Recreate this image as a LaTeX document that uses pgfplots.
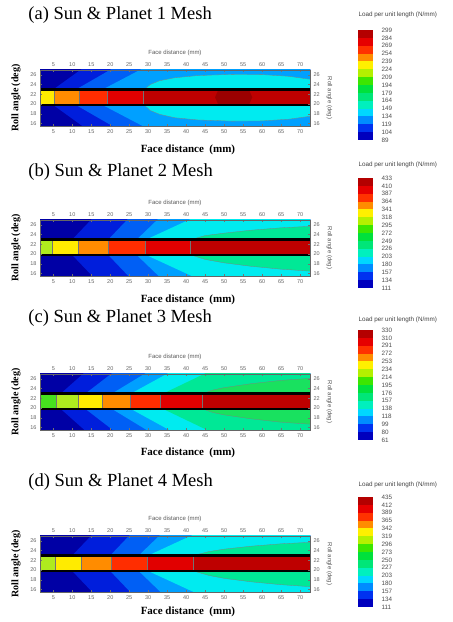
\documentclass[border=0pt]{standalone}
\usepackage{pgfplots}
\pgfplotsset{compat=1.18}
\usepackage{fontspec}
\setmainfont{Liberation Serif}
\newfontfamily\sans{Liberation Sans}

\definecolor{cnavy}{RGB}{0,0,165}
\definecolor{cblue}{RGB}{0,30,220}
\definecolor{cmblue}{RGB}{0,95,245}
\definecolor{clblue}{RGB}{0,160,255}
\definecolor{ccyan}{RGB}{0,235,240}
\definecolor{cgreen}{RGB}{0,232,150}
\definecolor{cgreenb}{RGB}{25,225,95}
\definecolor{bgreen}{RGB}{70,225,30}
\definecolor{byg}{RGB}{175,235,30}
\definecolor{byel}{RGB}{255,235,0}
\definecolor{borange}{RGB}{255,140,0}
\definecolor{bro}{RGB}{255,45,0}
\definecolor{bred}{RGB}{225,0,0}
\definecolor{bdred}{RGB}{190,0,0}
\definecolor{bddred}{RGB}{155,0,0}
\definecolor{cb0}{RGB}{0,0,190}
\definecolor{cb1}{RGB}{0,50,240}
\definecolor{cb2}{RGB}{0,140,255}
\definecolor{cb3}{RGB}{0,215,255}
\definecolor{cb4}{RGB}{0,240,190}
\definecolor{cb5}{RGB}{0,230,120}
\definecolor{cb6}{RGB}{0,225,60}
\definecolor{cb7}{RGB}{60,230,0}
\definecolor{cb8}{RGB}{180,240,0}
\definecolor{cb9}{RGB}{255,240,0}
\definecolor{cb10}{RGB}{255,140,0}
\definecolor{cb11}{RGB}{255,50,0}
\definecolor{cb12}{RGB}{230,0,0}
\definecolor{cb13}{RGB}{180,0,0}

% contour level: colour, x at band edge, x at far edge
\newcommand\lvl[3]{%
 \addplot[fill=#1,draw=none] coordinates {(#2,23) (#3,27.5) (74,27.5) (74,23)};
 \addplot[fill=#1,draw=none] coordinates {(#2,19.8) (#3,15.3) (74,15.3) (74,19.8)};}
\newcommand\seg[3]{\addplot[fill=#1,draw=black!55,line width=0.3pt] coordinates {(#2,19.8) (#2,23) (#3,23) (#3,19.8)};}
\newcommand\base{\addplot[fill=cnavy,draw=none] coordinates {(0,15) (0,28) (74,28) (74,15)};}
\newcommand\bandlines{%
 \addplot[black,line width=2.3pt] coordinates {(0,23) (74,23)};
 \addplot[black,line width=2.3pt] coordinates {(0,19.8) (74,19.8)};}
\newcommand\cb[3]{\addplot[fill=#1,draw=none] coordinates {(0,#2) (1,#2) (1,#3) (0,#3)};}
\newcommand\cbar{%
 \cb{cb0}{0}{1}\cb{cb1}{1}{2}\cb{cb2}{2}{3}\cb{cb3}{3}{4}\cb{cb4}{4}{5}
 \cb{cb5}{5}{6}\cb{cb6}{6}{7}\cb{cb7}{7}{8}\cb{cb8}{8}{9}\cb{cb9}{9}{10}
 \cb{cb10}{10}{11}\cb{cb11}{11}{12}\cb{cb12}{12}{13}\cb{cb13}{13}{14}}

\pgfplotsset{
 panel/.style={scale only axis, width=270pt, height=56pt,
   xmin=1.5, xmax=72.6, ymin=15.5, ymax=27,
   xtick={5,10,...,70}, ytick={16,18,...,26},
   axis on top, tick style={black!55, thin}, major tick length=2pt,
   axis line style={black!60, line width=0.4pt},
   /pgf/number format/assume math mode=true,
   ticklabel style={font=\sans\fontsize{5.5}{6}\selectfont, text=black!60},
   anchor=north west},
 panelmain/.style={panel,
   xlabel={Face distance\ \ (mm)}, ylabel={Roll angle (deg)},
   xlabel style={font=\bfseries\fontsize{11}{12}\selectfont, at={(axis description cs:0.548,#1)}, anchor=center},
   ylabel style={font=\bfseries\fontsize{10}{12}\selectfont, at={(axis description cs:-0.089,0.5)}, anchor=center}},
 paneltop/.style={panel, xticklabel pos=upper, yticklabel pos=right,
   xlabel={Face distance (mm)}, ylabel={Roll angle (deg)},
   label style={font=\sans\fontsize{6}{7}\selectfont, text=black!65},
   ylabel style={rotate=180}},
 ptitle/.style={title style={font=\fontsize{18.5}{20}\selectfont, anchor=west, yshift=-6pt, at={(axis description cs:-0.056,#1)}}},
 cbarax/.style={scale only axis, width=15pt, height=110pt,
   xmin=0, xmax=1, ymin=0, ymax=14, xtick=\empty, ytick={0,...,14},
   yticklabel pos=right, major tick length=0pt, axis line style={draw=none},
   yticklabel style={font=\sans\fontsize{6.3}{7}\selectfont, text=black!70, anchor=west, xshift=5pt},
   anchor=north west, title={Load per unit length (N/mm)},
   title style={font=\sans\fontsize{6.3}{7}\selectfont, text=black!75, anchor=west, yshift=-6pt, at={(axis description cs:-0.2,#1)}}},
}

\begin{document}
\begin{tikzpicture}
\useasboundingbox (0pt,0pt) rectangle (453pt,622pt);

% ---------------- (a)
\begin{axis}[panelmain=-0.43, at={(40pt,552pt)}, title={(a) Sun \& Planet 1 Mesh}, ptitle=1.98]
\base
\lvl{cblue}{5}{13}
\lvl{cmblue}{11}{21}
\lvl{clblue}{18}{29}
\addplot[fill=ccyan,draw=black!50,line width=0.3pt] coordinates {(29,23) (30.5,24.0) (33,24.8) (37,25.4) (43,25.85) (52,26.1) (60,26.05) (67,25.7) (72.6,25.1) (74,25.0) (74,23)};
\addplot[fill=ccyan,draw=black!50,line width=0.3pt] coordinates {(29,19.8) (30.5,18.7) (33,17.9) (37,17.2) (43,16.75) (52,16.5) (60,16.55) (67,16.9) (72.6,17.5) (74,17.6) (74,19.8)};
\seg{byel}{0}{5.2}
\seg{borange}{5.2}{11.8}
\seg{bro}{11.8}{19.2}
\seg{bred}{19.2}{28.6}
\seg{bdred}{28.6}{74}
\addplot[fill=bddred,draw=none] coordinates {(48.5,19.8) (47.6,21.4) (48.5,23) (56.5,23) (57.4,21.4) (56.5,19.8)};
\bandlines
\end{axis}
\begin{axis}[paneltop, at={(40pt,552pt)}]
\end{axis}
\begin{axis}[cbarax=1.136, at={(358pt,592pt)},
  yticklabels={89,104,119,134,149,164,179,194,209,224,239,254,269,284,299}]
\cbar
\end{axis}

% ---------------- (b)
\begin{axis}[panelmain=-0.43, at={(40pt,402pt)}, title={(b) Sun \& Planet 2 Mesh}, ptitle=1.857]
\base
\lvl{cblue}{10}{15.5}
\lvl{cmblue}{19.5}{25}
\lvl{clblue}{27}{33}
\lvl{ccyan}{29.5}{42}
\addplot[fill=cgreen,draw=black!50,line width=0.3pt] coordinates {(41.4,23) (45,23.8) (50,24.3) (57,24.9) (65,25.4) (72.6,25.7) (74,25.75) (74,23)};
\addplot[fill=cgreen,draw=black!50,line width=0.3pt] coordinates {(41.4,19.8) (45,18.9) (50,18.2) (57,17.5) (65,16.9) (72.6,16.5) (74,16.45) (74,19.8)};
\seg{byg}{0}{4.6}
\seg{byel}{4.6}{11.6}
\seg{borange}{11.6}{19.5}
\seg{bro}{19.5}{29.1}
\seg{bred}{29.1}{41.0}
\seg{bdred}{41.0}{74}
\bandlines
\end{axis}
\begin{axis}[paneltop, at={(40pt,402pt)}]
\end{axis}
\begin{axis}[cbarax=1.118, at={(358pt,444pt)},
  yticklabels={111,134,157,180,203,226,249,272,295,318,341,364,387,410,433}]
\cbar
\end{axis}

% ---------------- (c)
\begin{axis}[panelmain=-0.41, at={(40pt,248pt)}, title={(c) Sun \& Planet 3 Mesh}, ptitle=2.0]
\base
\lvl{cblue}{7}{13.5}
\lvl{cmblue}{13.5}{21}
\lvl{clblue}{20.5}{30}
\lvl{ccyan}{25.5}{36}
\lvl{cgreen}{34}{46}
\addplot[fill=cgreenb,draw=black!50,line width=0.3pt] coordinates {(44.5,23) (47,23.7) (50,24.2) (57,25.0) (65,25.7) (72.6,26.1) (74,26.15) (74,23)};
\addplot[fill=cgreenb,draw=black!50,line width=0.3pt] coordinates {(44.5,19.8) (47,19.1) (50,18.6) (57,17.8) (65,17.1) (72.6,16.7) (74,16.65) (74,19.8)};
\seg{bgreen}{0}{5.8}
\seg{byg}{5.8}{11.6}
\seg{byel}{11.6}{17.8}
\seg{borange}{17.8}{25.3}
\seg{bro}{25.3}{33.2}
\seg{bred}{33.2}{44.2}
\seg{bdred}{44.2}{74}
\bandlines
\end{axis}
\begin{axis}[paneltop, at={(40pt,248pt)}]
\end{axis}
\begin{axis}[cbarax=1.09, at={(358pt,292pt)},
  yticklabels={61,80,99,118,138,157,176,195,214,234,253,272,291,310,330}]
\cbar
\end{axis}

% ---------------- (d)
\begin{axis}[panelmain=-0.36, at={(40pt,86pt)}, title={(d) Sun \& Planet 4 Mesh}, ptitle=1.96]
\base
\lvl{cblue}{10}{15.5}
\lvl{cmblue}{20}{25.5}
\lvl{clblue}{27.5}{33.5}
\lvl{ccyan}{30}{42.5}
\addplot[fill=cgreen,draw=black!50,line width=0.3pt] coordinates {(42,23) (46,23.8) (50,24.3) (57,24.9) (65,25.4) (72.6,25.7) (74,25.75) (74,23)};
\addplot[fill=cgreen,draw=black!50,line width=0.3pt] coordinates {(42,19.8) (46,18.9) (50,18.3) (57,17.6) (65,17.0) (72.6,16.6) (74,16.55) (74,19.8)};
\seg{byg}{0}{5.5}
\seg{byel}{5.5}{12.3}
\seg{borange}{12.3}{20.2}
\seg{bro}{20.2}{29.8}
\seg{bred}{29.8}{41.8}
\seg{bdred}{41.8}{74}
\bandlines
\end{axis}
\begin{axis}[paneltop, at={(40pt,86pt)}]
\end{axis}
\begin{axis}[cbarax=1.11, at={(358pt,125pt)},
  yticklabels={111,134,157,180,203,227,250,273,296,319,342,365,389,412,435}]
\cbar
\end{axis}
\end{tikzpicture}
\end{document}
